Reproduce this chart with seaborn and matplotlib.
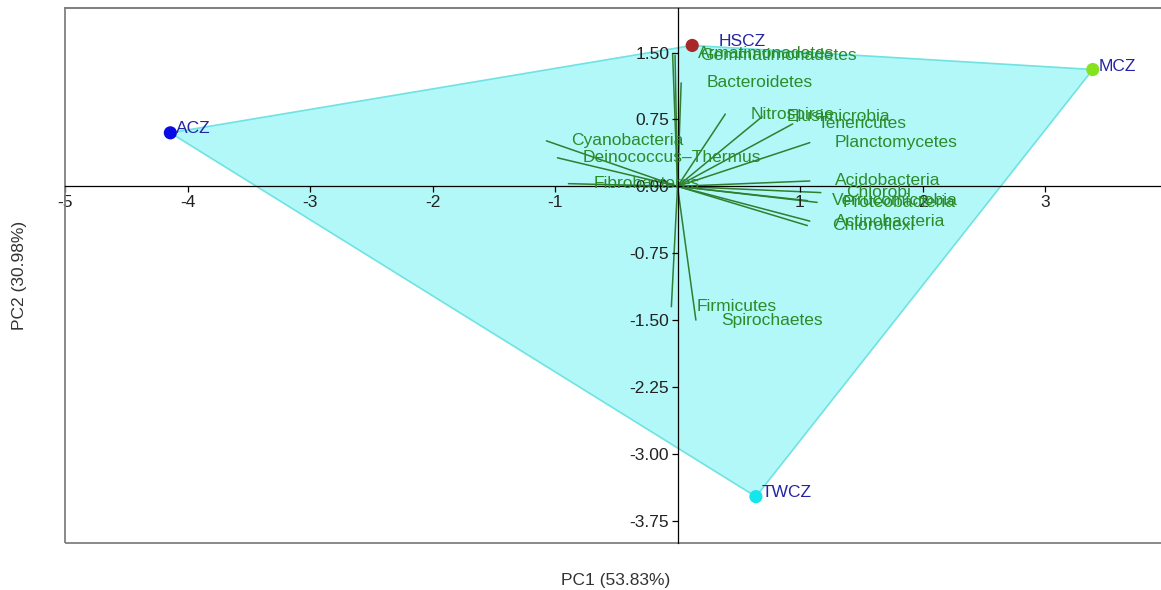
import numpy as np
import pandas as pd
import matplotlib
matplotlib.use('Agg')
import matplotlib.pyplot as plt
from matplotlib.patches import Polygon, Rectangle
import seaborn as sns

# ==============================
# DATA
# ==============================
sites = ['ACZ', 'HSCZ', 'MCZ', 'TWCZ']
site_pc1 = [-4.14, 0.12, 3.39, 0.64]
site_pc2 = [0.60, 1.58, 1.31, -3.48]
site_colors = ['#0a0ae6', '#a8282a', '#86e21e', '#14e6ec']

phyla = ['Armatimonadetes', 'Gemmatimonadetes', 'Bacteroidetes', 'Nitrospirae',
         'Elusimicrobia', 'Tenericutes', 'Planctomycetes', 'Cyanobacteria',
         'Deinococcus–Thermus', 'Fibrobacteres', 'Acidobacteria', 'Chlorobi',
         'Verrucomicrobia', 'Proteobacteria', 'Actinobacteria', 'Chloroflexi',
         'Firmicutes', 'Spirochaetes']
load_pc1 = [-0.04, -0.02, 0.03, 0.39, 0.69, 0.94, 1.08, -1.07, -0.98, -0.89,
            1.08, 1.17, 1.06, 1.14, 1.08, 1.06, -0.05, 0.15]
load_pc2 = [1.49, 1.47, 1.16, 0.81, 0.78, 0.70, 0.49, 0.51, 0.32, 0.03,
            0.06, -0.07, -0.16, -0.18, -0.39, -0.44, -1.35, -1.50]

x_ticks = [-5, -4, -3, -2, -1, 1, 2, 3]
y_ticks = [1.50, 0.75, 0.00, -0.75, -1.50, -2.25, -3.00, -3.75]
x_label = 'PC1 (53.83%)'
y_label = 'PC2 (30.98%)'

# label offsets for site names (points)
site_offsets = {'ACZ': (4, 3), 'HSCZ': (19, 3), 'MCZ': (4, 2), 'TWCZ': (4, 3)}

df_sites = pd.DataFrame({'site': sites, 'PC1': site_pc1, 'PC2': site_pc2})
df_load = pd.DataFrame({'phylum': phyla, 'PC1': load_pc1, 'PC2': load_pc2})

# ==============================
# PLOT
# ==============================
sns.set_style('white')
plt.rcParams['font.family'] = ['Liberation Sans', 'DejaVu Sans']

fig = plt.figure(figsize=(11.61, 5.9), dpi=100)
ax = fig.add_axes([65 / 1161, 47 / 590, 1102.5 / 1161, 535 / 590])
ax.set_xlim(-5, 4)
ax.set_ylim(-4, 2)
ax.set_axisbelow(False)

# convex hull of the sites (order by angle around the centroid)
pts = df_sites[['PC1', 'PC2']].to_numpy()
cen = pts.mean(axis=0)
order = np.argsort(np.arctan2(pts[:, 1] - cen[1], pts[:, 0] - cen[0]))
hull = Polygon(pts[order], closed=True, facecolor='#b3f8f8',
               edgecolor='#6fe2e2', lw=1.2, zorder=1)
ax.add_patch(hull)

# loadings
for _, r in df_load.iterrows():
    ax.plot([0, r['PC1']], [0, r['PC2']], color='#2f7f2f', lw=1.1, zorder=2)
    ax.annotate(r['phylum'], (r['PC1'], r['PC2']), xytext=(18, 0),
                textcoords='offset points', ha='left', va='center',
                fontsize=12.5, color='#2a8c2a', zorder=4)

# sites
sns.scatterplot(data=df_sites, x='PC1', y='PC2', hue='site',
                palette=dict(zip(sites, site_colors)), s=90,
                edgecolor='none', legend=False, ax=ax, zorder=5)
for _, r in df_sites.iterrows():
    ax.annotate(r['site'], (r['PC1'], r['PC2']), xytext=site_offsets[r['site']],
                textcoords='offset points', ha='left', va='center',
                fontsize=12.5, color='#2424a6', zorder=6)
ax.set_xlabel('')
ax.set_ylabel('')

# axes through the origin
for s in ['left', 'bottom']:
    ax.spines[s].set_position(('data', 0))
    ax.spines[s].set_color('black')
    ax.spines[s].set_linewidth(0.9)
    ax.spines[s].set_zorder(3)
for s in ['top', 'right']:
    ax.spines[s].set_color('#808080')
    ax.spines[s].set_linewidth(1.3)
ax.add_patch(Rectangle((0, 0), 1, 1, transform=ax.transAxes, fill=False,
                       edgecolor='#808080', lw=1.3, clip_on=False, zorder=3))

ax.set_xticks(x_ticks)
ax.set_xticklabels([f'{t:g}' for t in x_ticks])
ax.set_yticks(y_ticks)
ax.set_yticklabels([f'{t:.2f}' for t in y_ticks])
ax.tick_params(axis='both', direction='out', length=4, width=0.9,
               labelsize=12.5, labelcolor='#222222', color='black',
               bottom=True, left=True, pad=2)

# axis titles in the outer frame
fig.text((65 + 1167) / 2 / 1161, 1 - 580 / 590, x_label, ha='center',
         va='center', fontsize=12.5, color='#333333')
fig.text(20 / 1161, 1 - 275 / 590, y_label, ha='center', va='center',
         rotation=90, fontsize=12.5, color='#333333')

plt.savefig('out.png', dpi=100, facecolor='white')
plt.close()
